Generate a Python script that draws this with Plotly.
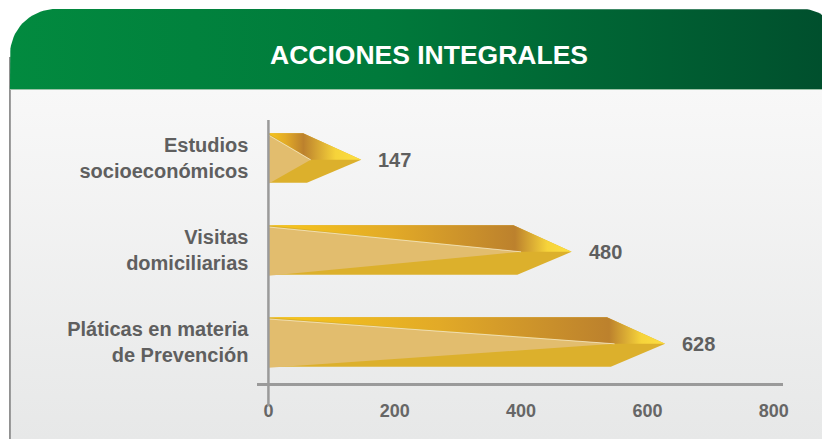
import numpy as np
import plotly.graph_objects as go

# ---- data ----
categories = ["Estudios<br>socioeconómicos", "Visitas<br>domiciliarias", "Pláticas en materia<br>de Prevención"]
values = [147, 480, 628]
x_ticks = [0, 200, 400, 600, 800]
title_text = "ACCIONES INTEGRALES"

W, H = 827, 439
fig = go.Figure()

# ---- background (pixel coordinate axes x/y) ----
def rounded_top_rect(x0, y0, x1, y1, r_l, r_r, n=24):
    xs, ys = [x0], [y1]
    t = np.linspace(np.pi, 1.5 * np.pi, n)
    xs += list(x0 + r_l + r_l * np.cos(t)); ys += list(y0 + r_l + r_l * np.sin(t))
    t = np.linspace(1.5 * np.pi, 2 * np.pi, n)
    xs += list(x1 - r_r + r_r * np.cos(t)); ys += list(y0 + r_r + r_r * np.sin(t))
    xs += [x1, x0]; ys += [y1, y1]
    return xs, ys

# panel
fig.add_trace(go.Scatter(x=[10, 840, 840, 10, 10], y=[89, 89, 440, 440, 89], mode="lines",
                         line=dict(width=0), fill="toself",
                         fillgradient=dict(type="vertical", start=89, stop=439,
                                           colorscale=[[0, "#F8F8F8"], [1, "#E7E8E8"]]),
                         xaxis="x", yaxis="y", hoverinfo="skip", showlegend=False))
# left border
fig.add_trace(go.Scatter(x=[10, 10], y=[57, 440], mode="lines", line=dict(color="#808080", width=1.6),
                         xaxis="x", yaxis="y", hoverinfo="skip", showlegend=False))
# header
hx, hy = rounded_top_rect(10, 9, 845, 89, 46, 38)
fig.add_trace(go.Scatter(x=hx, y=hy, mode="lines", line=dict(width=0), fill="toself",
                         fillgradient=dict(type="horizontal", start=10, stop=827,
                                           colorscale=[[0, "#028A3F"], [0.45, "#007A3B"], [1, "#004F2D"]]),
                         xaxis="x", yaxis="y", hoverinfo="skip", showlegend=False))
fig.add_trace(go.Scatter(x=[10, 840], y=[89.5, 89.5], mode="lines", line=dict(color="#9CC3A8", width=1),
                         xaxis="x", yaxis="y", hoverinfo="skip", showlegend=False))

# ---- arrows (chart axes x2/y2) ----
hh = 0.27
h_top, h_bot, apex_off = 92, 86, 80
for i, v in enumerate(values):
    ytop, ybot, ymid = i - hh, i + hh, i + 0.02
    # full arrow (lower colour)
    fig.add_trace(go.Scatter(x=[0, v - h_top, v, v - h_bot, 0, 0],
                             y=[ytop, ytop, ymid, ybot, ybot, ytop],
                             mode="lines", line=dict(width=0), fill="toself", fillcolor="#DCB02C",
                             xaxis="x2", yaxis="y2", hoverinfo="skip", showlegend=False))
    # upper band with gradient
    p = (v - h_top) / v
    cs = [[0, "#F8C71B"], [0.5 * p, "#E2AA27"], [p, "#BC812D"],
          [p + 0.55 * (1 - p), "#F6D33A"], [1, "#FDE041"]]
    fig.add_trace(go.Scatter(x=[0, v - h_top, v, v - apex_off, 0],
                             y=[ytop, ytop, ymid, ymid, ytop],
                             mode="lines", line=dict(width=0), fill="toself",
                             fillgradient=dict(type="horizontal", start=0, stop=v, colorscale=cs),
                             xaxis="x2", yaxis="y2", hoverinfo="skip", showlegend=False))
    # light triangle
    fig.add_trace(go.Scatter(x=[0, v - apex_off, 0, 0],
                             y=[ytop + 0.02, ymid, ybot + 0.01, ytop + 0.02],
                             mode="lines", line=dict(width=0), fill="toself", fillcolor="#E2BD6E",
                             xaxis="x2", yaxis="y2", hoverinfo="skip", showlegend=False))
    fig.add_trace(go.Scatter(x=[0, v - apex_off], y=[ytop + 0.02, ymid],
                             mode="lines", line=dict(color="rgba(255,255,255,0.55)", width=1),
                             xaxis="x2", yaxis="y2", hoverinfo="skip", showlegend=False))
    fig.add_annotation(x=v, y=ymid, xref="x2", yref="y2", text=str(v), showarrow=False,
                       xanchor="left", xshift=15,
                       font=dict(family="Liberation Sans, Arial", size=20, color="#5F5F5F", weight="bold"))

# title
fig.add_annotation(x=432, y=55, xref="x", yref="y", text=title_text, showarrow=False,
                   font=dict(family="Liberation Sans, Arial", size=26.5, color="white", weight="bold"))

# vertical axis line at x=0
fig.add_shape(type="line", xref="x2", yref="paper", x0=0, x1=0,
              y0=(H - 406) / H, y1=(H - 120) / H, line=dict(color="#9A9A9A", width=2.5))

fig.update_layout(
    width=W, height=H, autosize=False, margin=dict(l=0, r=0, t=0, b=0),
    paper_bgcolor="white", plot_bgcolor="rgba(0,0,0,0)", hovermode=False, showlegend=False,
    xaxis=dict(domain=[0, 1], range=[0, W], visible=False, fixedrange=True),
    yaxis=dict(domain=[0, 1], range=[H, 0], visible=False, fixedrange=True),
    xaxis2=dict(domain=[259 / W, 788 / W], anchor="y2", range=[-17.4, 815],
                tickvals=x_ticks, ticktext=[str(t) for t in x_ticks],
                showline=True, linecolor="#9A9A9A", linewidth=2.5, ticks="",
                showgrid=False, zeroline=False, ticklabelstandoff=10, fixedrange=True,
                tickfont=dict(family="Liberation Sans, Arial", size=18, color="#666666", weight="bold")),
    yaxis2=dict(domain=[(H - 383) / H, (H - 120) / H], anchor="x2", range=[2.446, -0.413],
                tickvals=list(range(len(categories))), ticktext=categories, fixedrange=True,
                showline=False, showgrid=False, zeroline=False, ticks="", ticklabelstandoff=8,
                tickfont=dict(family="Liberation Sans, Arial", size=20, color="#5F5F5F", weight="bold")),
)

fig.write_html("out.html", config={"displayModeBar": False, "responsive": False},
               default_width="827px", default_height="439px",
               post_script="document.body.style.margin='0';document.body.style.overflow='hidden';")
